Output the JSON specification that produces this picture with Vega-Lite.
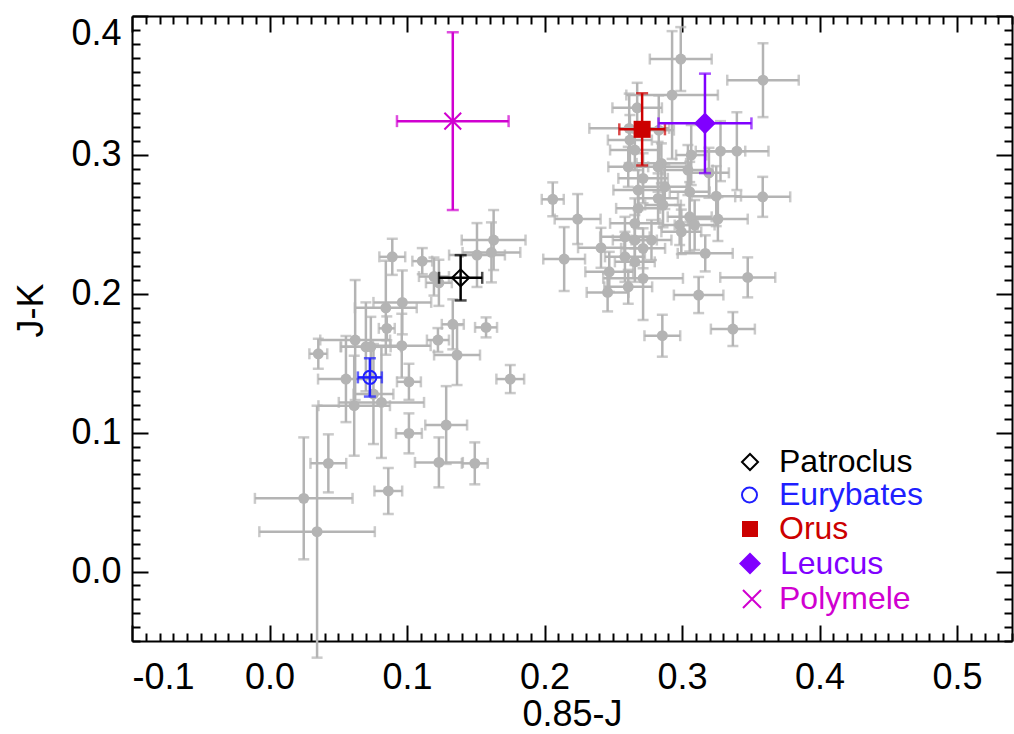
{
  "$schema": "https://vega.github.io/schema/vega-lite/v6.json",
  "autosize": "none",
  "width": 880,
  "height": 625,
  "padding": {"left": 132, "top": 16, "right": 2, "bottom": 93},
  "background": "white",
  "config": {
    "view": {"stroke": null},
    "font": "Liberation Sans",
    "axis": {"grid": false, "domainColor": "black", "domainWidth": 2, "tickColor": "black", "tickWidth": 2, "labelFont": "Liberation Sans", "titleFont": "Liberation Sans", "labelFontSize": 36, "titleFontSize": 36, "labelColor": "black", "titleColor": "black", "titleFontWeight": "normal", "labelOverlap": false},
    "legend": {"orient": "none", "title": null, "padding": 0, "labelFont": "Liberation Sans", "labelFontSize": 32, "symbolStrokeWidth": 2, "labelLimit": 400}
  },
  "datasets": {
    "grey": [
      {"x":0.0893,"y":0.2266,"ex":0.0094,"ey":0.013},
      {"x":0.1111,"y":0.2235,"ex":0.0072,"ey":0.0094},
      {"x":0.1196,"y":0.2124,"ex":0.0109,"ey":0.0137},
      {"x":0.1232,"y":0.2079,"ex":0.0094,"ey":0.0166},
      {"x":0.1509,"y":0.2279,"ex":0.0203,"ey":0.023},
      {"x":0.163,"y":0.2387,"ex":0.0232,"ey":0.0216},
      {"x":0.1614,"y":0.2298,"ex":0.021,"ey":0.0216},
      {"x":0.0966,"y":0.1938,"ex":0.021,"ey":0.023},
      {"x":0.0846,"y":0.1899,"ex":0.0225,"ey":0.0338},
      {"x":0.0853,"y":0.1751,"ex":0.0058,"ey":0.0086},
      {"x":0.0962,"y":0.1626,"ex":0.021,"ey":0.023},
      {"x":0.1333,"y":0.178,"ex":0.008,"ey":0.018},
      {"x":0.1225,"y":0.1667,"ex":0.008,"ey":0.0086},
      {"x":0.1364,"y":0.1559,"ex":0.0167,"ey":0.0216},
      {"x":0.1575,"y":0.1758,"ex":0.008,"ey":0.0072},
      {"x":0.0355,"y":0.1568,"ex":0.0065,"ey":0.0108},
      {"x":0.0623,"y":0.1667,"ex":0.0254,"ey":0.0432},
      {"x":0.0701,"y":0.1618,"ex":0.018,"ey":0.032},
      {"x":0.0737,"y":0.1618,"ex":0.022,"ey":0.0216},
      {"x":0.0556,"y":0.1386,"ex":0.0203,"ey":0.031},
      {"x":0.1014,"y":0.1366,"ex":0.0087,"ey":0.013},
      {"x":0.0616,"y":0.1194,"ex":0.026,"ey":0.036},
      {"x":0.0814,"y":0.1218,"ex":0.031,"ey":0.04},
      {"x":0.0756,"y":0.1278,"ex":0.0145,"ey":0.036},
      {"x":0.1014,"y":0.0995,"ex":0.0094,"ey":0.0144},
      {"x":0.1285,"y":0.1055,"ex":0.0152,"ey":0.028},
      {"x":0.1232,"y":0.0786,"ex":0.0174,"ey":0.018},
      {"x":0.1493,"y":0.0779,"ex":0.0094,"ey":0.0151},
      {"x":0.0428,"y":0.0779,"ex":0.013,"ey":0.0209},
      {"x":0.1751,"y":0.1386,"ex":0.0101,"ey":0.0101},
      {"x":0.0249,"y":0.0527,"ex":0.0355,"ey":0.0439},
      {"x":0.0346,"y":0.0287,"ex":0.042,"ey":0.0907},
      {"x":0.0864,"y":0.058,"ex":0.0101,"ey":0.0166},
      {"x":0.2991,"y":0.369,"ex":0.0225,"ey":0.023},
      {"x":0.2928,"y":0.3431,"ex":0.0333,"ey":0.046},
      {"x":0.3589,"y":0.3538,"ex":0.026,"ey":0.0266},
      {"x":0.2674,"y":0.3339,"ex":0.018,"ey":0.018},
      {"x":0.2616,"y":0.3191,"ex":0.029,"ey":0.025},
      {"x":0.2831,"y":0.3178,"ex":0.011,"ey":0.025},
      {"x":0.206,"y":0.268,"ex":0.008,"ey":0.0122},
      {"x":0.2241,"y":0.2538,"ex":0.0167,"ey":0.018},
      {"x":0.2143,"y":0.225,"ex":0.0152,"ey":0.023},
      {"x":0.2411,"y":0.2331,"ex":0.0167,"ey":0.0144},
      {"x":0.2471,"y":0.2158,"ex":0.0174,"ey":0.0144},
      {"x":0.2459,"y":0.201,"ex":0.0152,"ey":0.0137},
      {"x":0.2609,"y":0.205,"ex":0.0174,"ey":0.0122},
      {"x":0.2717,"y":0.2111,"ex":0.029,"ey":0.03},
      {"x":0.2857,"y":0.1698,"ex":0.013,"ey":0.0151},
      {"x":0.3121,"y":0.1991,"ex":0.018,"ey":0.013},
      {"x":0.337,"y":0.1746,"ex":0.016,"ey":0.0122},
      {"x":0.3478,"y":0.2118,"ex":0.02,"ey":0.0144},
      {"x":0.3169,"y":0.2291,"ex":0.02,"ey":0.013},
      {"x":0.3261,"y":0.2538,"ex":0.0217,"ey":0.0158},
      {"x":0.3587,"y":0.2698,"ex":0.02,"ey":0.0144},
      {"x":0.3249,"y":0.2703,"ex":0.018,"ey":0.0216},
      {"x":0.3399,"y":0.3027,"ex":0.023,"ey":0.028},
      {"x":0.328,"y":0.3027,"ex":0.018,"ey":0.0216},
      {"x":0.3196,"y":0.2871,"ex":0.0145,"ey":0.018},
      {"x":0.3067,"y":0.2999,"ex":0.011,"ey":0.0216},
      {"x":0.3043,"y":0.2891,"ex":0.018,"ey":0.018},
      {"x":0.3056,"y":0.2734,"ex":0.0145,"ey":0.0216},
      {"x":0.3056,"y":0.2554,"ex":0.016,"ey":0.025},
      {"x":0.3092,"y":0.2495,"ex":0.0145,"ey":0.018},
      {"x":0.2983,"y":0.2495,"ex":0.013,"ey":0.0144},
      {"x":0.2995,"y":0.2446,"ex":0.0145,"ey":0.016},
      {"x":0.285,"y":0.2939,"ex":0.018,"ey":0.0144},
      {"x":0.2826,"y":0.2914,"ex":0.0217,"ey":0.018},
      {"x":0.2609,"y":0.2914,"ex":0.0145,"ey":0.0144},
      {"x":0.2717,"y":0.2831,"ex":0.018,"ey":0.018},
      {"x":0.2875,"y":0.277,"ex":0.016,"ey":0.016},
      {"x":0.2681,"y":0.2747,"ex":0.018,"ey":0.0144},
      {"x":0.2826,"y":0.2687,"ex":0.0145,"ey":0.018},
      {"x":0.2862,"y":0.2639,"ex":0.013,"ey":0.016},
      {"x":0.2681,"y":0.2615,"ex":0.016,"ey":0.0144},
      {"x":0.2657,"y":0.2507,"ex":0.018,"ey":0.018},
      {"x":0.2585,"y":0.241,"ex":0.018,"ey":0.0144},
      {"x":0.2657,"y":0.2387,"ex":0.016,"ey":0.018},
      {"x":0.2717,"y":0.2327,"ex":0.016,"ey":0.0144},
      {"x":0.2778,"y":0.2387,"ex":0.0145,"ey":0.0144},
      {"x":0.2585,"y":0.2266,"ex":0.0145,"ey":0.018},
      {"x":0.2657,"y":0.223,"ex":0.0145,"ey":0.0144},
      {"x":0.2621,"y":0.3107,"ex":0.016,"ey":0.018},
      {"x":0.2657,"y":0.3035,"ex":0.018,"ey":0.0144}
    ],
    "obj": [
      {"name":"Patroclus","x":0.139,"y":0.2115,"ex":0.0157,"ey":0.0163},
      {"name":"Eurybates","x":0.073,"y":0.1398,"ex":0.0087,"ey":0.0138},
      {"name":"Orus","x":0.271,"y":0.3184,"ex":0.0166,"ey":0.026},
      {"name":"Leucus","x":0.3167,"y":0.3227,"ex":0.0338,"ey":0.0358},
      {"name":"Polymele","x":0.1333,"y":0.3243,"ex":0.0406,"ey":0.064}
    ]
  },
  "resolve": {"axis": {"x": "independent", "y": "independent"}, "scale": {"shape": "independent"}},
  "layer": [
    {
      "data": {"name": "grey"},
      "mark": {"type": "errorbar", "ticks": true, "size": 11, "thickness": 2.5, "color": "#b4b4b4"},
      "encoding": {
        "x": {"field": "x", "type": "quantitative", "axis": null},
        "xError": {"field": "ex"},
        "y": {"field": "y", "type": "quantitative", "axis": null}
      }
    },
    {
      "data": {"name": "grey"},
      "mark": {"type": "errorbar", "ticks": true, "size": 11, "thickness": 2.5, "color": "#b4b4b4"},
      "encoding": {
        "y": {"field": "y", "type": "quantitative", "axis": null},
        "yError": {"field": "ey"},
        "x": {"field": "x", "type": "quantitative", "axis": null}
      }
    },
    {
      "data": {"name": "grey"},
      "mark": {"type": "point", "filled": true, "size": 120, "color": "#b4b4b4", "opacity": 1},
      "encoding": {
        "x": {"field": "x", "type": "quantitative",
          "scale": {"domain": [-0.1, 0.54], "nice": false, "zero": false},
          "axis": {"orient": "bottom", "title": "0.85-J", "tickCount": 64,
            "tickSize": {"condition": {"test": "abs(datum.value*10 - round(datum.value*10)) < 0.001", "value": -16}, "value": -8},
            "labelPadding": 35,
            "labelExpr": "abs(datum.value*10 - round(datum.value*10)) < 0.001 ? (datum.value < -0.001 ? '-' + format(-datum.value, '.1f') : format(abs(datum.value), '.1f')) : ''",
            "titlePadding": -6}},
        "y": {"field": "y", "type": "quantitative",
          "scale": {"domain": [-0.05, 0.4], "nice": false, "zero": false},
          "axis": {"orient": "left", "title": "J-K", "tickCount": 45,
            "tickSize": {"condition": {"test": "abs(datum.value*10 - round(datum.value*10)) < 0.001", "value": -16}, "value": -8},
            "labelPadding": 27, "labelFlush": true,
            "labelExpr": "abs(datum.value*10 - round(datum.value*10)) < 0.001 ? (datum.value < -0.001 ? '-' + format(-datum.value, '.1f') : format(abs(datum.value), '.1f')) : ''",
            "titlePadding": 20, "titleY": 294}}
      }
    },
    {
      "data": {"name": "obj"},
      "mark": {"type": "errorbar", "ticks": true, "size": 12, "thickness": 2.5},
      "encoding": {
        "x": {"field": "x", "type": "quantitative", "axis": null},
        "xError": {"field": "ex"},
        "y": {"field": "y", "type": "quantitative", "axis": null},
        "color": {"field": "name", "type": "nominal", "legend": null,
          "scale": {"domain": ["Patroclus", "Eurybates", "Orus", "Leucus", "Polymele"], "range": ["#000000", "#1f1fff", "#cc0000", "#8000ff", "#d000d0"]}}
      }
    },
    {
      "data": {"name": "obj"},
      "mark": {"type": "errorbar", "ticks": true, "size": 12, "thickness": 2.5},
      "encoding": {
        "y": {"field": "y", "type": "quantitative", "axis": null},
        "yError": {"field": "ey"},
        "x": {"field": "x", "type": "quantitative", "axis": null},
        "color": {"field": "name", "type": "nominal", "legend": null}
      }
    },
    {
      "data": {"name": "obj"},
      "transform": [{"filter": "datum.name == 'Patroclus'"}],
      "mark": {"type": "point", "filled": false, "color": "#000000", "size": 290, "strokeWidth": 2, "opacity": 1},
      "encoding": {
        "x": {"field": "x", "type": "quantitative",
          "axis": {"orient": "top", "title": null, "labels": false, "tickCount": 64,
            "tickSize": {"condition": {"test": "abs(datum.value*10 - round(datum.value*10)) < 0.001", "value": -16}, "value": -8}}},
        "y": {"field": "y", "type": "quantitative",
          "axis": {"orient": "right", "title": null, "labels": false, "tickCount": 45,
            "tickSize": {"condition": {"test": "abs(datum.value*10 - round(datum.value*10)) < 0.001", "value": -16}, "value": -8}}},
        "shape": {"field": "name", "type": "nominal", "scale": {"range": ["diamond"]},
          "legend": {"legendX": 602, "legendY": 430, "symbolSize": 256, "labelOffset": 13, "labelColor": "#000000", "symbolStrokeColor": "#000000", "symbolFillColor": "transparent"}}
      }
    },
    {
      "data": {"name": "obj"},
      "transform": [{"filter": "datum.name == 'Eurybates'"}],
      "mark": {"type": "point", "filled": false, "color": "#1f1fff", "size": 170, "strokeWidth": 2, "opacity": 1},
      "encoding": {
        "x": {"field": "x", "type": "quantitative", "axis": null},
        "y": {"field": "y", "type": "quantitative", "axis": null},
        "shape": {"field": "name", "type": "nominal", "scale": {"range": ["circle"]},
          "legend": {"legendX": 601.5, "legendY": 463, "symbolSize": 225, "labelOffset": 13.5, "labelColor": "#1f1fff", "symbolStrokeColor": "#1f1fff", "symbolFillColor": "transparent"}}
      }
    },
    {
      "data": {"name": "obj"},
      "transform": [{"filter": "datum.name == 'Orus'"}],
      "mark": {"type": "point", "filled": true, "color": "#cc0000", "size": 290, "opacity": 1},
      "encoding": {
        "x": {"field": "x", "type": "quantitative", "axis": null},
        "y": {"field": "y", "type": "quantitative", "axis": null},
        "shape": {"field": "name", "type": "nominal", "scale": {"range": ["square"]},
          "legend": {"legendX": 602, "legendY": 497, "symbolSize": 256, "labelOffset": 13, "labelColor": "#cc0000", "symbolStrokeColor": "#cc0000", "symbolFillColor": "#cc0000"}}
      }
    },
    {
      "data": {"name": "obj"},
      "transform": [{"filter": "datum.name == 'Leucus'"}],
      "mark": {"type": "point", "filled": true, "color": "#8000ff", "size": 480, "opacity": 1},
      "encoding": {
        "x": {"field": "x", "type": "quantitative", "axis": null},
        "y": {"field": "y", "type": "quantitative", "axis": null},
        "shape": {"field": "name", "type": "nominal", "scale": {"range": ["diamond"]},
          "legend": {"legendX": 602, "legendY": 531.5, "symbolSize": 484, "labelOffset": 14, "labelColor": "#8000ff", "symbolStrokeColor": "#8000ff", "symbolFillColor": "#8000ff"}}
      }
    },
    {
      "data": {"name": "obj"},
      "transform": [{"filter": "datum.name == 'Polymele'"}],
      "mark": {"type": "point", "filled": false, "color": "#d000d0", "size": 280, "strokeWidth": 2, "opacity": 1},
      "encoding": {
        "x": {"field": "x", "type": "quantitative", "axis": null},
        "y": {"field": "y", "type": "quantitative", "axis": null},
        "shape": {"field": "name", "type": "nominal", "scale": {"range": ["M-1,-1L1,1M-1,1L1,-1"]},
          "legend": {"legendX": 604, "legendY": 567, "symbolSize": 324, "labelOffset": 11, "labelColor": "#d000d0", "symbolStrokeColor": "#d000d0", "symbolFillColor": "transparent"}}
      }
    }
  ]
}
